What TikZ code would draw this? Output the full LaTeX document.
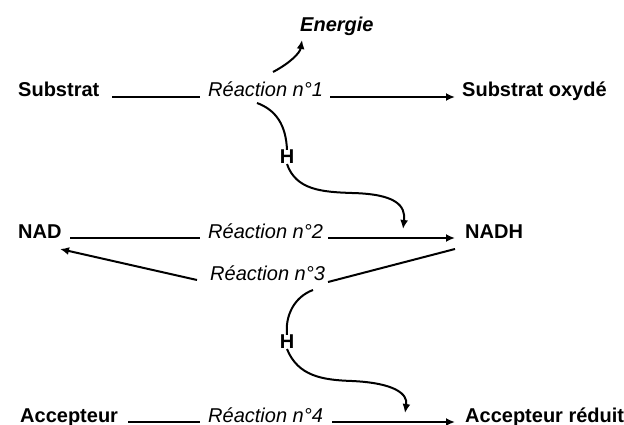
\documentclass[tikz,border=0pt]{standalone}
\usepackage{fontspec}
\setmainfont{Liberation Sans}
\usetikzlibrary{arrows.meta}
\tikzset{
  lbl/.style={anchor=base west,inner sep=0pt,font=\fontsize{20}{24}\selectfont\bfseries},
  rx/.style={anchor=base west,inner sep=0pt,font=\fontsize{20}{24}\selectfont\itshape},
  hh/.style={inner sep=0pt,font=\fontsize{20}{24}\selectfont\bfseries},
  ln/.style={line width=2pt},
  ar/.style={line width=2pt,-{Latex[length=9pt,width=8pt]}},
}
\begin{document}
\begin{tikzpicture}[x=1pt,y=-1pt]
\useasboundingbox (0,0) rectangle (624,425);
% row 1
\node[lbl] (sub) at (18,97) {Substrat};
\node[rx] (r1) at (208,97) {Réaction n°1};
\node[lbl] (subox) at (462,97) {Substrat oxydé};
\node[font=\fontsize{20}{24}\selectfont\bfseries\itshape,anchor=base west,inner sep=0pt] (en) at (300,32) {Energie};
% row 2
\node[lbl] (nad) at (18,238) {NAD};
\node[rx] (r2) at (208,238) {Réaction n°2};
\node[lbl] (nadh) at (465,238) {NADH};
% row 3
\node[rx] (r3) at (210,280) {Réaction n°3};
% row 4
\node[lbl] (acc) at (20,422) {Accepteur};
\node[rx] (r4) at (208,422) {Réaction n°4};
\node[lbl] (accr) at (465,422) {Accepteur réduit};
% H nodes
\node[hh] (h1) at (287,157) {H};
\node[hh] (h2) at (287,342) {H};
% coordinates
\coordinate (e0) at (273,72);
\coordinate (e1) at (302,40);
\coordinate (c1) at (257,103);
\coordinate (t1) at (403,229);
\coordinate (c2) at (313,290);
\coordinate (t2) at (405,413);
\coordinate (n3r) at (455,249);
\coordinate (n3l) at (60,249);
% straight lines
\draw[ln] (112,97) -- (200,97);
\draw[ar] (330,97) -- (455,97);
\draw[ln] (70,238) -- (200,238);
\draw[ar] (328,238) -- (455,238);
\draw[ln] (n3r) -- (328,282);
\draw[ar] (197,280) -- (n3l);
\draw[ln] (128,422) -- (200,422);
\draw[ar] (332,422) -- (455,422);
% curves
\draw[ar] (e0) .. controls (290,63) and (300,53) .. (e1);
\draw[ln] (c1) .. controls (276,110) and (286,125) .. (h1.north);
\draw[ar] (h1.south) .. controls (296,190) and (322,192) .. (352,193) .. controls (395,194) and (406,205) .. (t1);
\draw[ln] (c2) .. controls (294,297) and (285,316) .. (h2.north);
\draw[ar] (h2.south) .. controls (298,376) and (322,380) .. (352,381) .. controls (395,383) and (408,394) .. (t2);
\end{tikzpicture}
\end{document}
